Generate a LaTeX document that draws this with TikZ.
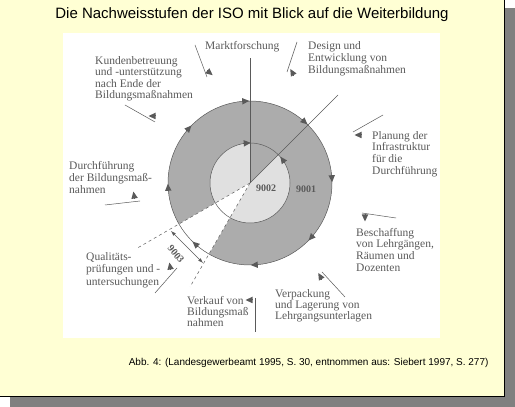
\documentclass[tikz,border=0pt]{standalone}
\usepackage{fontspec}
\setmainfont{Liberation Serif}
\newfontfamily\headfont{Liberation Sans}
\usetikzlibrary{arrows.meta}
\definecolor{frameyellow}{RGB}{255,255,212}
\definecolor{ringgray}{RGB}{172,172,172}
\definecolor{innergray}{RGB}{224,224,224}
\definecolor{inkgray}{RGB}{90,90,90}
\begin{document}
\begin{tikzpicture}[x=1pt,y=1pt,
        label/.style={anchor=north west, inner sep=0pt, align=left, text=inkgray,
            font=\fontsize{11.5}{11.7}\selectfont},
        tick/.style={inkgray, line width=0.5pt},
        tri/.style={-{Triangle[length=7pt,width=6.5pt]}, inkgray, line width=0pt},
        ring/.style={draw=inkgray, line width=0.5pt},
        stage/.style={text=inkgray, inner sep=0pt, font=\bfseries\fontsize{10}{10}\selectfont}]
    \useasboundingbox (0,0) rectangle (515,407);
    % frame, shadow and white panel
    \fill[black!50] (10,0) rectangle (515,399);
    \draw[fill=frameyellow, line width=1pt] (-2,10) rectangle (504,410);
    \fill[white] (63,69) rectangle (440,374);
    % the ring
    \coordinate (c) at (250,224);
    \fill[ringgray] (c) circle (82);
    \fill[innergray] (c) circle (40);
    \fill[ringgray] (c) -- ++(45:40) arc[start angle=45, end angle=90, radius=40] -- cycle;
    \fill[white] (c) -- ++(210:82) arc[start angle=210, end angle=240, radius=82] -- cycle;
    \draw[ring] (c) circle (82) (c) circle (40);
    \draw[ring] (c) -- ++(90:125);
    \draw[ring] (c) -- ++(45:124.5);
    \draw[ring, dashed] (c) -- ++(210:130);
    \draw[ring, dashed] (c) -- ++(240:120);
    \foreach \a in {93,48,3,-42,-87,-132,-177,-222}{
        \draw[tri] (c) ++(\a:82) ++({\a+90}:3.5) -- ++({\a-90}:7);
        };
    \draw[tri] (c) ++(94:40) ++(184:3.5) -- ++(4:7);
    \draw[tri] (c) ++(36:40) ++(-54:3.5) -- ++(126:7);
    \node[stage] (n9002) at (266,219) {9002};
    \node[stage] (n9001) at (306,218) {9001};
    \coordinate (s1) at (171,176);
    \coordinate (s2) at (203,144);
    \draw[inkgray, line width=0.5pt, {Latex[length=5pt,width=3.5pt]}-{Latex[length=5pt,width=3.5pt]}] (s1) -- (s2);
    \node[stage, rotate=-50] (n9003) at (176,153) {9003};
    % labels round the ring
    \node[label] (markt) at (205,366) {Marktforschung};
    \node[label, font=\fontsize{11.5}{12}\selectfont] (design) at (308,366) {Design und\\Entwicklung von\\Bildungsmaßnahmen};
    \node[label, font=\fontsize{11.5}{11.5}\selectfont] (kunden) at (95,351) {Kundenbetreuung\\und -unterstützung\\nach Ende der\\Bildungsmaßnahmen};
    \node[label, font=\fontsize{11.5}{12}\selectfont] (durch) at (69,246) {Durchführung\\der Bildungsmaß-\\nahmen};
    \node[label, font=\fontsize{11.5}{12.5}\selectfont] (quali) at (86,155) {Qualitäts-\\prüfungen und -\\untersuchungen};
    \node[label, font=\fontsize{11.5}{11}\selectfont] (verkauf) at (187,111) {Verkauf von\\Bildungsmaß\\nahmen};
    \node[label, font=\fontsize{11.5}{11}\selectfont] (verpack) at (275,118) {Verpackung\\und Lagerung von\\Lehrgangsunterlagen};
    \node[label] (planung) at (372,276) {Planung der\\Infrastruktur\\für die\\Durchführung};
    \node[label] (beschaff) at (356,179) {Beschaffung\\von Lehrgängen,\\Räumen und\\Dozenten};
    % pointer strokes with their triangles
    \foreach \xa/\ya/\xb/\yb/\xt/\yt/\d in {195/362/207/330/210/334/-40, 297/365/287/335/292/335/120,
            125/302/155/285/152/291/180, 105/202/140/206/134/212/100, 155/114/177/139/170/141/100,
            255/109/255/75/249/107/180, 322/135/345/110/320/131/120, 353/275/383/292/358/272/180,
            362/194/396/189/365/189/270}{
        \draw[tick] (\xa,\ya) -- (\xb,\yb);
        \draw[tri] (\xt,\yt) ++({\d+180}:3.5) -- ++(\d:7);
        };
    % title and source
    \node[font=\headfont\fontsize{15}{15}\selectfont] (title) at (252,392)
        {Die Nachweisstufen der ISO mit Blick auf die Weiterbildung};
    \node[anchor=east, font=\headfont\fontsize{10}{10}\selectfont] (source) at (492,44)
        {Abb. 4: (Landesgewerbeamt 1995, S. 30, entnommen aus: Siebert 1997, S. 277)};
\end{tikzpicture}
\end{document}
